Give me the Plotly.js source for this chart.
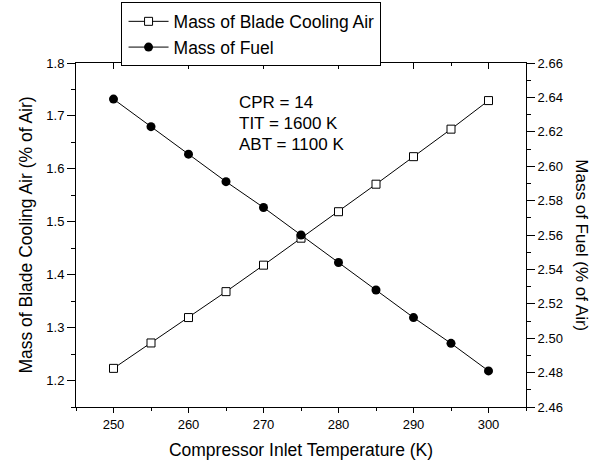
<!DOCTYPE html>
<html>
<head>
<meta charset="utf-8">
<script src="https://cdn.plot.ly/plotly-3.0.1.min.js"></script>
<style>html,body{margin:0;padding:0;background:#fff;}#chart{width:593px;height:463px;}</style>
</head>
<body>
<div id="chart"></div>
<script>
const temps = [250, 255, 260, 265, 270, 275, 280, 285, 290, 295, 300];
const bladeAir = [1.223, 1.271, 1.319, 1.368, 1.418, 1.469, 1.519, 1.571, 1.623, 1.675, 1.729];
const fuel = [2.639, 2.623, 2.607, 2.591, 2.576, 2.560, 2.544, 2.528, 2.512, 2.497, 2.481];
const seriesNames = ["Mass of Blade Cooling Air", "Mass of Fuel"];
const noteLines = ["CPR = 14", "TIT = 1600 K", "ABT = 1100 K"];

const FONT = "Liberation Sans, Arial, sans-serif";

const traces = [
  {
    x: temps, y: bladeAir, name: seriesNames[0], type: "scatter", mode: "lines+markers",
    line: {color: "#000", width: 1},
    marker: {symbol: "square", size: 8, color: "#fff", line: {color: "#000", width: 1}},
    xaxis: "x", yaxis: "y"
  },
  {
    x: temps, y: fuel, name: seriesNames[1], type: "scatter", mode: "lines+markers",
    line: {color: "#000", width: 1},
    marker: {symbol: "circle", size: 9, color: "#000"},
    xaxis: "x", yaxis: "y2"
  },
  {
    x: [], y: [], xaxis: "x2", yaxis: "y", showlegend: false, hoverinfo: "skip", type: "scatter"
  }
];

const layout = {
  width: 593, height: 463,
  margin: {l: 76, r: 67, t: 63, b: 56, autoexpand: false},
  paper_bgcolor: "#fff", plot_bgcolor: "#fff",
  font: {family: FONT, size: 13, color: "#000"},
  showlegend: true,
  legend: {
    x: 0.099, y: 1.176, xanchor: "left", yanchor: "top",
    bordercolor: "#000", borderwidth: 1, bgcolor: "#fff",
    font: {family: FONT, size: 17.5, color: "#000"},
    tracegroupgap: 0, itemwidth: 40, indentation: 2
  },
  xaxis: {
    range: [245, 305], tick0: 250, dtick: 10,
    ticks: "outside", ticklen: 5, tickwidth: 1, tickcolor: "#000",
    minor: {dtick: 5, tick0: 250, ticks: "outside", ticklen: 3, tickcolor: "#000", showgrid: false},
    showline: true, linecolor: "#000", linewidth: 1, mirror: true,
    showgrid: false, zeroline: false,
    tickfont: {family: FONT, size: 13, color: "#000"},
    title: {text: "Compressor Inlet Temperature (K)", font: {family: FONT, size: 17.5, color: "#000"}, standoff: 13}
  },
  xaxis2: {
    overlaying: "x", side: "top", range: [245, 305], tick0: 250, dtick: 10,
    ticks: "inside", ticklen: 6, tickwidth: 1, tickcolor: "#000",
    minor: {dtick: 5, tick0: 250, ticks: "inside", ticklen: 3, tickcolor: "#000", showgrid: false},
    showticklabels: false, showgrid: false, zeroline: false, showline: false
  },
  yaxis: {
    range: [1.15, 1.8], tick0: 1.2, dtick: 0.1, tickformat: ".1f",
    ticks: "outside", ticklen: 8, tickwidth: 1, tickcolor: "#000",
    minor: {dtick: 0.05, tick0: 1.15, ticks: "outside", ticklen: 4, tickcolor: "#000", showgrid: false},
    showline: true, linecolor: "#000", linewidth: 1,
    showgrid: false, zeroline: false,
    tickfont: {family: FONT, size: 13, color: "#000"},
    title: {text: "Mass of Blade Cooling Air (% of Air)", font: {family: FONT, size: 17.5, color: "#000"}, standoff: 9}
  },
  yaxis2: {
    overlaying: "y", side: "right", range: [2.46, 2.66], tick0: 2.46, dtick: 0.02, tickformat: ".2f",
    ticks: "outside", ticklen: 8, tickwidth: 1, tickcolor: "#000",
    minor: {dtick: 0.01, tick0: 2.46, ticks: "outside", ticklen: 4, tickcolor: "#000", showgrid: false},
    showline: true, linecolor: "#000", linewidth: 1,
    showgrid: false, zeroline: false,
    tickfont: {family: FONT, size: 13, color: "#000"}
  },
  annotations: [
    {text: noteLines[0], xref: "paper", yref: "paper", x: 0.357, y: 0.884, xanchor: "left", yanchor: "middle", showarrow: false, font: {family: FONT, size: 17, color: "#000"}},
    {text: noteLines[1], xref: "paper", yref: "paper", x: 0.357, y: 0.823, xanchor: "left", yanchor: "middle", showarrow: false, font: {family: FONT, size: 17, color: "#000"}},
    {text: noteLines[2], xref: "paper", yref: "paper", x: 0.357, y: 0.762, xanchor: "left", yanchor: "middle", showarrow: false, font: {family: FONT, size: 17, color: "#000"}},
    {text: "Mass of Fuel (% of Air)", xref: "paper", yref: "paper", x: 1.1244, y: 0.47, xanchor: "center", yanchor: "middle", textangle: 90, showarrow: false, font: {family: FONT, size: 17, color: "#000"}}
  ]
};

Plotly.newPlot("chart", traces, layout, {displayModeBar: false, staticPlot: true});
</script>
</body>
</html>
